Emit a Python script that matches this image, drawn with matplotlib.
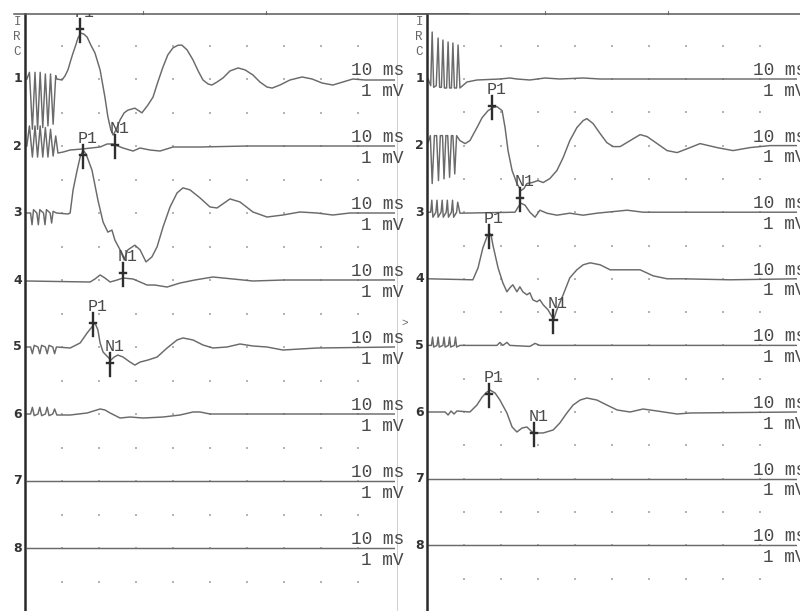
import matplotlib
matplotlib.use("Agg")
import matplotlib.pyplot as plt
import numpy as np

# ---------------- data (time in ms, amplitude in mV relative to channel baseline) -------------
channels = ["1", "2", "3", "4", "5", "6", "7", "8"]
side_letters = ["I", "R", "C"]
time_label = "10 ms"
amp_label = "1 mV"

L1 = [(0.5,0.0),(1.2,0.2),(2.0,-1.5),(2.7,0.2),(3.4,-1.5),(4.1,0.2),(4.8,-1.45),(5.5,0.15),(6.2,-1.4),(6.9,0.15),(7.6,-1.35),(8.3,0.1),(8.6,0.0),(10.0,-0.03),(10.8,0.09),(11.6,0.27),(12.4,0.57),(13.0,0.78),(13.8,1.04),(14.3,1.22),(15.1,1.37),(15.9,1.34),(16.8,1.25),(17.8,1.01),(18.9,0.78),(20.3,0.27),(21.6,-0.54),(22.4,-1.13),(23.2,-1.52),(23.8,-1.67),(24.6,-1.52),(25.7,-1.22),(26.8,-1.01),(27.8,-0.93),(29.7,-0.87),(31.6,-1.01),(33.2,-0.78),(34.6,-0.54),(35.9,-0.09),(37.3,0.36),(38.6,0.72),(40.0,0.93),(41.4,1.01),(42.4,1.01),(43.8,0.87),(45.4,0.57),(46.8,0.24),(48.1,-0.03),(49.5,-0.15),(50.5,-0.18),(51.9,-0.09),(53.5,0.03),(55.4,0.24),(57.6,0.33),(59.5,0.27),(61.6,0.12),(63.5,-0.09),(65.4,-0.24),(66.8,-0.27),(68.9,-0.18),(71.6,-0.03),(74.9,0.06),(77.6,0.0),(80.3,-0.12),(83.2,-0.18),(85.9,-0.09),(88.6,0.0),(91.9,-0.03),(100,-0.03)]
L2 = [(0.5,0.0),(1.2,0.6),(2.0,-0.33),(2.7,0.6),(3.4,-0.33),(4.1,0.6),(4.8,-0.33),(5.5,0.55),(6.2,-0.33),(6.9,0.5),(7.6,-0.3),(8.3,0.3),(8.9,-0.21),(10.3,-0.18),(12.2,-0.12),(15.4,-0.09),(20.3,-0.03),(22.2,0.06),(23.8,0.06),(25.1,0.0),(26.5,-0.06),(29.2,-0.15),(31.1,-0.06),(33.8,-0.12),(36.5,-0.15),(40.0,-0.03),(47.3,-0.03),(60,0.0),(100,0.0)]
L3 = [(0.5,0.0),(1.5,0.0),(1.9,-0.35),(2.3,0.1),(3.2,0.0),(3.6,-0.35),(4.0,0.1),(5.0,0.0),(5.4,-0.35),(5.8,0.1),(6.8,0.0),(7.2,-0.3),(7.6,0.05),(8.5,0.0),(11.6,-0.03),(12.2,0.0),(13.0,0.69),(14.1,1.28),(14.9,1.67),(15.7,1.88),(16.5,1.76),(18.1,1.28),(19.7,0.39),(21.1,-0.27),(22.4,-0.57),(23.5,-0.51),(24.3,-0.81),(25.7,-1.10),(26.8,-1.40),(27.8,-1.10),(29.7,-0.96),(31.1,-1.10),(32.7,-1.46),(34.3,-1.31),(35.7,-1.01),(37.3,-0.42),(39.2,0.18),(41.1,0.60),(42.7,0.75),(44.6,0.69),(47.3,0.45),(50.0,0.18),(51.9,0.15),(55.4,0.42),(58.1,0.33),(61.6,0.03),(65.4,-0.12),(69.7,-0.06),(74.3,0.03),(78.9,0.0),(83.2,-0.06),(87.8,0.0),(100,0.0)]
L4 = [(0.5,-0.03),(17.6,-0.06),(18.9,0.03),(20.3,0.15),(21.6,0.06),(23.0,-0.06),(24.9,0.0),(26.5,0.06),(29.2,0.03),(31.1,-0.06),(33.0,-0.15),(35.1,-0.15),(38.4,-0.21),(41.9,-0.09),(45.9,0.0),(50.8,0.09),(56.2,0.03),(61.6,-0.03),(70,0.0),(100,0.0)]
L5 = [(0.5,0.0),(1.5,0.0),(2.0,-0.2),(2.5,0.05),(3.5,0.0),(4.0,-0.2),(4.5,0.05),(5.5,0.0),(6.0,-0.2),(6.5,0.05),(7.5,0.0),(8.0,-0.2),(8.5,0.0),(12.2,-0.03),(14.9,0.12),(16.8,0.42),(18.1,0.60),(18.9,0.72),(19.7,0.51),(20.3,0.12),(21.1,-0.15),(22.4,-0.30),(23.2,-0.39),(24.1,-0.30),(25.1,-0.24),(26.5,-0.30),(28.4,-0.45),(29.7,-0.54),(31.1,-0.45),(33.2,-0.39),(35.7,-0.30),(38.4,-0.03),(41.1,0.21),(42.7,0.27),(45.4,0.21),(48.1,0.06),(50.8,-0.03),(54.6,0.0),(58.1,0.09),(61.6,0.03),(65.4,0.0),(69.7,-0.09),(78.9,-0.03),(100,0.0)]
L6 = [(0.5,0.0),(1.5,0.0),(2.0,0.2),(2.5,-0.05),(3.5,0.0),(4.0,0.2),(4.5,-0.05),(5.5,0.0),(6.0,0.2),(6.5,-0.05),(7.5,0.0),(8.0,0.15),(8.6,-0.03),(12.2,-0.03),(16.8,0.03),(20.3,0.15),(21.6,0.12),(23.0,0.03),(25.7,-0.12),(28.4,-0.09),(31.9,-0.12),(37.3,-0.09),(41.9,-0.03),(45.4,0.06),(47.3,0.06),(50.0,0.0),(100,0.0)]
L7 = [(0.5,0.0),(100,0.0)]
L8 = [(0.5,0.0),(100,0.0)]

R1 = [(0.3,0.0),(1.0,-0.2),(1.4,1.41),(1.8,-0.25),(2.5,-0.2),(3.0,1.23),(3.4,-0.25),(3.9,-0.25),(4.3,1.17),(4.7,-0.27),(5.3,-0.27),(5.7,1.11),(6.1,-0.27),(6.6,-0.27),(7.0,1.08),(7.4,-0.27),(8.0,-0.27),(8.4,1.02),(8.9,-0.27),(10.8,-0.09),(13.5,-0.03),(19.7,0.0),(22.4,0.03),(24.3,0.0),(27.8,-0.03),(31.9,0.03),(35.9,0.0),(42.2,0.03),(46.8,0.0),(100,0.0)]
R2 = [(0.3,0.1),(0.9,0.3),(1.4,-1.14),(2.0,0.3),(2.6,0.3),(3.1,-1.05),(3.6,0.3),(4.2,0.3),(4.6,-1.0),(5.1,0.3),(5.6,0.3),(6.1,-0.95),(6.6,0.3),(7.0,0.3),(7.5,-0.85),(8.0,0.3),(8.9,0.15),(10.3,0.06),(11.6,0.15),(13.5,0.54),(14.9,0.84),(16.5,1.05),(17.8,1.14),(18.9,1.17),(20.3,1.05),(21.1,0.54),(21.9,-0.15),(23.0,-0.75),(24.3,-1.14),(25.4,-1.35),(26.2,-1.29),(27.0,-1.14),(28.4,-1.11),(30.0,-1.05),(31.4,-1.11),(33.2,-0.99),(35.1,-0.75),(36.8,-0.36),(38.6,0.15),(40.5,0.54),(42.2,0.75),(43.2,0.81),(44.9,0.66),(46.8,0.36),(48.6,0.09),(50.3,-0.03),(52.2,-0.03),(54.9,0.15),(57.6,0.33),(59.5,0.27),(62.2,0.06),(64.9,-0.15),(67.6,-0.21),(71.1,-0.06),(73.8,0.06),(78.4,-0.06),(82.7,-0.15),(87.3,-0.06),(92.7,0.0),(100,0.0)]
R3 = [(0.3,0.0),(1.0,0.0),(1.3,0.36),(1.6,-0.15),(2.4,0.0),(2.7,0.36),(3.0,-0.15),(3.8,0.0),(4.1,0.36),(4.4,-0.15),(5.2,0.0),(5.5,0.36),(5.8,-0.15),(6.6,0.0),(6.9,0.36),(7.2,-0.15),(8.0,0.0),(8.3,0.3),(8.9,-0.03),(23.8,0.0),(24.6,0.15),(25.4,0.27),(26.5,0.21),(27.8,0.0),(29.2,-0.15),(30.5,0.06),(32.4,-0.03),(35.1,-0.09),(38.6,-0.03),(42.2,-0.09),(45.9,-0.03),(54.1,0.06),(58.4,0.0),(100,0.0)]
R4 = [(0.3,0.0),(12.4,-0.03),(13.8,0.33),(15.1,0.93),(16.2,1.26),(16.8,1.38),(17.3,1.32),(17.8,1.02),(19.2,0.33),(20.5,-0.12),(21.6,-0.39),(22.4,-0.27),(23.2,-0.18),(24.3,-0.39),(25.1,-0.24),(25.9,-0.39),(27.0,-0.48),(27.8,-0.42),(28.6,-0.63),(29.7,-0.69),(30.5,-0.63),(31.4,-0.78),(32.7,-0.93),(33.8,-1.14),(34.3,-1.20),(35.1,-0.93),(36.8,-0.48),(38.6,0.03),(40.5,0.27),(42.2,0.42),(44.1,0.48),(46.8,0.42),(49.5,0.27),(53.0,0.27),(57.6,0.27),(61.1,0.09),(64.9,0.0),(69.2,0.0),(81.9,-0.03),(100,0.0)]
R5 = [(0.3,0.0),(1.2,0.0),(1.5,0.25),(1.8,-0.05),(2.7,0.0),(3.0,0.25),(3.3,-0.05),(4.3,0.0),(4.6,0.25),(4.9,-0.05),(5.8,0.0),(6.1,0.25),(6.4,-0.05),(7.4,0.0),(7.7,0.25),(8.0,-0.05),(8.9,0.0),(18.9,0.0),(19.7,0.09),(20.5,0.0),(21.6,0.09),(22.4,0.0),(27.8,-0.03),(29.2,0.06),(30.5,0.0),(100,0.0)]
R6 = [(0.3,0.0),(4.9,0.0),(5.7,-0.09),(6.5,0.03),(7.3,-0.06),(8.1,0.03),(11.6,0.0),(13.5,0.21),(14.9,0.45),(16.2,0.60),(17.0,0.66),(18.4,0.57),(19.7,0.36),(21.6,-0.03),(23.0,-0.45),(24.3,-0.60),(25.7,-0.48),(27.0,-0.45),(28.4,-0.60),(29.7,-0.63),(31.4,-0.63),(34.1,-0.54),(35.9,-0.33),(37.8,-0.03),(39.5,0.21),(41.4,0.36),(43.2,0.42),(45.9,0.36),(48.6,0.21),(51.4,0.06),(54.9,0.0),(58.4,0.09),(62.2,0.03),(67.6,-0.06),(71.1,-0.03),(100,0.0)]
R7 = [(0.3,0.0),(100,0.0)]
R8 = [(0.3,0.0),(100,0.0)]

# markers: (channel index 1-based, time ms, amplitude mV, label)
left_marks = [(1,14.9,1.49,"P1"),(1,24.3,-1.97,"N1"),(3,15.7,1.73,"P1"),(3,26.5,-1.79,"N1"),(5,18.4,0.72,"P1"),(5,23.0,-0.48,"N1")]
right_marks = [(2,17.6,1.20,"P1"),(2,25.1,-1.56,"N1"),(4,16.8,1.32,"P1"),(4,34.1,-1.23,"N1"),(6,16.8,0.54,"P1"),(6,28.9,-0.63,"N1")]

left_traces = [L1, L2, L3, L4, L5, L6, L7, L8]
right_traces = [R1, R2, R3, R4, R5, R6, R7, R8]

# ---------------- layout ----------------
FW, FH = 800, 611
fig = plt.figure(figsize=(FW / 100, FH / 100), dpi=100)
fig.patch.set_facecolor("white")

TRACE_C = "#6a6a6a"
DARK = "#2a2a2a"
TEXT_C = "#4a4a4a"
MONO = ["Liberation Mono", "DejaVu Sans Mono"]

TOP_PX = 13.5
BASE0_PX = 79


def make_panel(x0_px, px_per_mV, traces, marks, left_ext_px, show_right_border):
    ax = fig.add_axes([x0_px / FW, 0, 370 / FW, (FH - TOP_PX) / FH])
    ytop = (BASE0_PX - TOP_PX) / px_per_mV
    ybot = -(FH - BASE0_PX) / px_per_mV
    ax.set_xlim(0, 100)
    ax.set_ylim(ybot, ytop)
    ax.set_xticks([])
    ax.set_yticks([])
    for s in ("right", "bottom", "top"):
        ax.spines[s].set_visible(False)
    ax.spines["left"].set_color(DARK)
    ax.spines["left"].set_linewidth(1.8)
    ax.set_facecolor("white")

    # top border line (extends a little to the left of the axis)
    ax.plot([left_ext_px / 370.0, 1.2], [1, 1], transform=ax.transAxes,
            color="#5a5a5a", lw=1.1, clip_on=False, zorder=3)
    # small ticks above top border
    for tx in (32, 65):
        ax.plot([tx, tx], [ytop, ytop + 3 / px_per_mV], color="#777777", lw=0.8,
                clip_on=False)
    if show_right_border:
        ax.plot([100.5, 100.5], [ybot, ytop], color="#cfcfcf", lw=0.7, clip_on=False)

    # dotted grid
    gx, gy = np.meshgrid(np.arange(10, 100, 10), np.arange(1, -16, -1))
    ax.scatter(gx.ravel(), gy.ravel(), s=1.6, marker="s", color="#b4b4b4",
               linewidths=0, zorder=1)

    # traces
    for i, pts in enumerate(traces):
        t = np.array([p[0] for p in pts])
        v = np.array([p[1] for p in pts]) - 2 * i
        ax.plot(t, v, color=TRACE_C, lw=1.05, zorder=2, solid_joinstyle="round")

        base = -2 * i
        ax.text(88.0, base + 0.12, time_label, fontsize=12.8, family=MONO,
                color=TEXT_C, ha="left", va="baseline", clip_on=False)
        ax.text(90.8, base - 0.5, amp_label, fontsize=12.8, family=MONO,
                color=TEXT_C, ha="left", va="baseline", clip_on=False)
        ax.text(-0.8, base, channels[i], fontsize=9, fontweight="bold",
                family=["DejaVu Sans"], color="#333333", ha="right", va="center",
                clip_on=False)

    # side letters
    for j, letter in enumerate(side_letters):
        ax.text(-2.1, (BASE0_PX - (22 + 15 * j)) / px_per_mV, letter, fontsize=9,
                family=MONO, color="#666666", ha="center", va="center", clip_on=False)

    # latency markers
    for ch, t, v, lab in marks:
        y = v - 2 * (ch - 1)
        ax.plot([t, t], [y - 0.39, y + 0.30], color="#2e2e2e", lw=1.7, zorder=4)
        ax.plot([t - 0.9, t + 0.9], [y, y], color="#2e2e2e", lw=1.7, zorder=4)
        ax.text(t + 1.2, y + 0.36, lab, fontsize=12, family=MONO, color=TEXT_C,
                ha="center", va="baseline", zorder=5, clip_on=True)
    return ax


axL = make_panel(25, 33.5, left_traces, left_marks, -11, True)
axR = make_panel(427, 33.3, right_traces, right_marks, -27, False)
axR.text(-5.9, (BASE0_PX - 323) / 33.3, ">", fontsize=8, family=MONO,
         color="#666666", ha="center", va="center", clip_on=False)

fig.savefig("out.png", dpi=100, facecolor="white")
